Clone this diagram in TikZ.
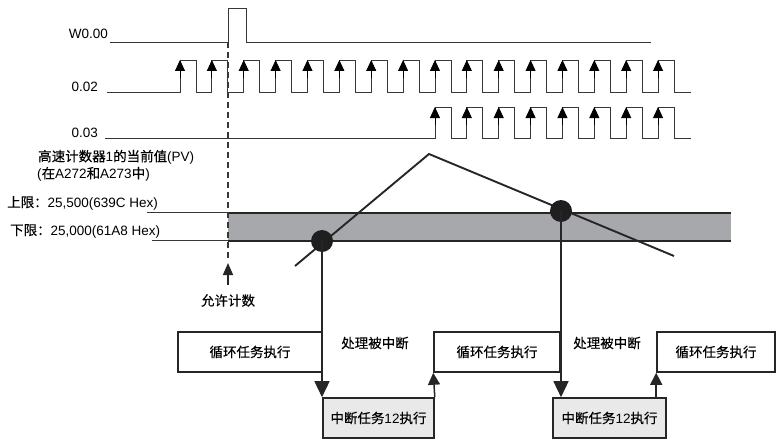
\documentclass[tikz,border=0pt]{standalone}
\usepackage{fontspec}
\setmainfont{Liberation Sans}
\newfontfamily\cjk[FakeBold=0.25]{Noto Sans CJK SC}
\definecolor{bandgray}{RGB}{166,168,171}
\definecolor{boxgray}{RGB}{233,233,234}
\definecolor{linegray}{RGB}{55,55,55}
\usetikzlibrary{arrows.meta,positioning,calc}
\newcommand{\zh}[1]{{\cjk #1}}

\begin{document}
\begin{tikzpicture}[x=1pt, y=-1pt,
    every node/.style={font=\fontsize{13.5}{15}\selectfont, inner sep=0pt},
    sigline/.style={linegray, line width=0.9pt},
    edgearrow/.style={-{Triangle[length=11pt, width=10pt]}, line width=0.9pt},
    limitline/.style={linegray, line width=0.8pt},
    bandline/.style={black!85, line width=1.6pt},
    pvline/.style={black!85, line width=1.9pt},
    pvdot/.style={circle, fill=black!88, minimum size=22pt},
    cycbox/.style={draw=black!85, line width=1.6pt, minimum height=40pt},
    intbox/.style={draw=black!85, fill=boxgray, line width=1.6pt, minimum height=40pt},
    downflow/.style={-{Triangle[length=16pt, width=15pt]}, line width=1.5pt, black!85},
    upflow/.style={-{Triangle[length=12pt, width=12pt]}, line width=1.5pt, black!85}
]
    \useasboundingbox (0,0) rectangle (778,441);

    % signals
    \node[anchor=east] (w0-lbl) at (108,34) {W0.00};
    \node[anchor=east] (c02-lbl) at (98,87) {0.02};
    \node[anchor=east] (c03-lbl) at (98,133) {0.03};

    \draw[sigline] (110,42) -- (228,42) -- (228,8) -- (246,8) -- (246,42) -- (651,42);
    \draw[sigline] (107,92) foreach \i in {0,...,15} {
        -- ({180+31.87*\i},92) |- ({196+31.87*\i},60) -- ({196+31.87*\i},92)} -- (691,92);
    \draw[sigline] (105,138) foreach \i in {8,...,15} {
        -- ({180+31.87*\i},138) |- ({196+31.87*\i},107) -- ({196+31.87*\i},138)} -- (691,138);
    \foreach \i in {0,...,15}
        \draw[edgearrow] ({180+31.87*\i},78) -- ({180+31.87*\i},60);
    \foreach \i in {8,...,15}
        \draw[edgearrow] ({180+31.87*\i},125) -- ({180+31.87*\i},107);

    % counter value
    \node[anchor=west] (pv-lbl) at (38,157) {\zh{高速计数器}1\zh{的当前值}(PV)};
    \node[anchor=west] (pv-sub) at (37,174) {(\zh{在}A272\zh{和}A273\zh{中})};
    \node[anchor=west] (hi-lbl) at (7,203) {\zh{上限：}25,500(639C Hex)};
    \node[anchor=west] (lo-lbl) at (10,231) {\zh{下限：}25,000(61A8 Hex)};

    \fill[bandgray] (228,212.7) rectangle (731,240.7);
    \draw[limitline] (147,212.7) -- (228,212.7);
    \draw[limitline] (152,240.7) -- (228,240.7);
    \draw[bandline] (228,212.7) -- (731,212.7);
    \draw[bandline] (228,240.7) -- (731,240.7);

    \coordinate (enable-top) at (228,42);
    \coordinate (enable-bot) at (228,258);
    \coordinate (enable-tip) at (228,263);
    \coordinate (enable-tail) at (228,285);
    \draw[linegray, line width=1.5pt, dash pattern=on 6pt off 4pt] (enable-top) -- (enable-bot);
    \draw[-{Triangle[length=12pt, width=10pt]}, line width=1.6pt, black!85] (enable-tail) -- (enable-tip);
    \node[below=9pt of enable-tail] (allow) {\zh{允许计数}};

    \draw[pvline] (295,266) -- (429,154) -- (674,256);
    \node[pvdot] (hit1) at (322,241) {};
    \node[pvdot] (hit2) at (561,211) {};

    % tasks
    \node[cycbox, minimum width=144pt] (cyc1) at (250,352) {\zh{循环任务执行}};
    \node[cycbox, minimum width=126pt] (cyc2) at (497,352) {\zh{循环任务执行}};
    \node[cycbox, minimum width=118pt] (cyc3) at (716,352) {\zh{循环任务执行}};
    \node[intbox, minimum width=111pt] (int1) at (378.5,418) {\zh{中断任务}12\zh{执行}};
    \node[intbox, minimum width=113pt] (int2) at (609.5,418) {\zh{中断任务}12\zh{执行}};
    \node (brk1) at (375,343) {\zh{处理被中断}};
    \node (brk2) at (607,343) {\zh{处理被中断}};

    \draw[downflow] (hit1.center) -- (hit1 |- int1.north);
    \draw[downflow] (hit2.center) -- (hit2 |- int2.north);
    \draw[upflow] (int1.north east) -- (cyc2.south west);
    \draw[upflow] (cyc3.south west |- int2.north) -- (cyc3.south west);
\end{tikzpicture}
\end{document}
